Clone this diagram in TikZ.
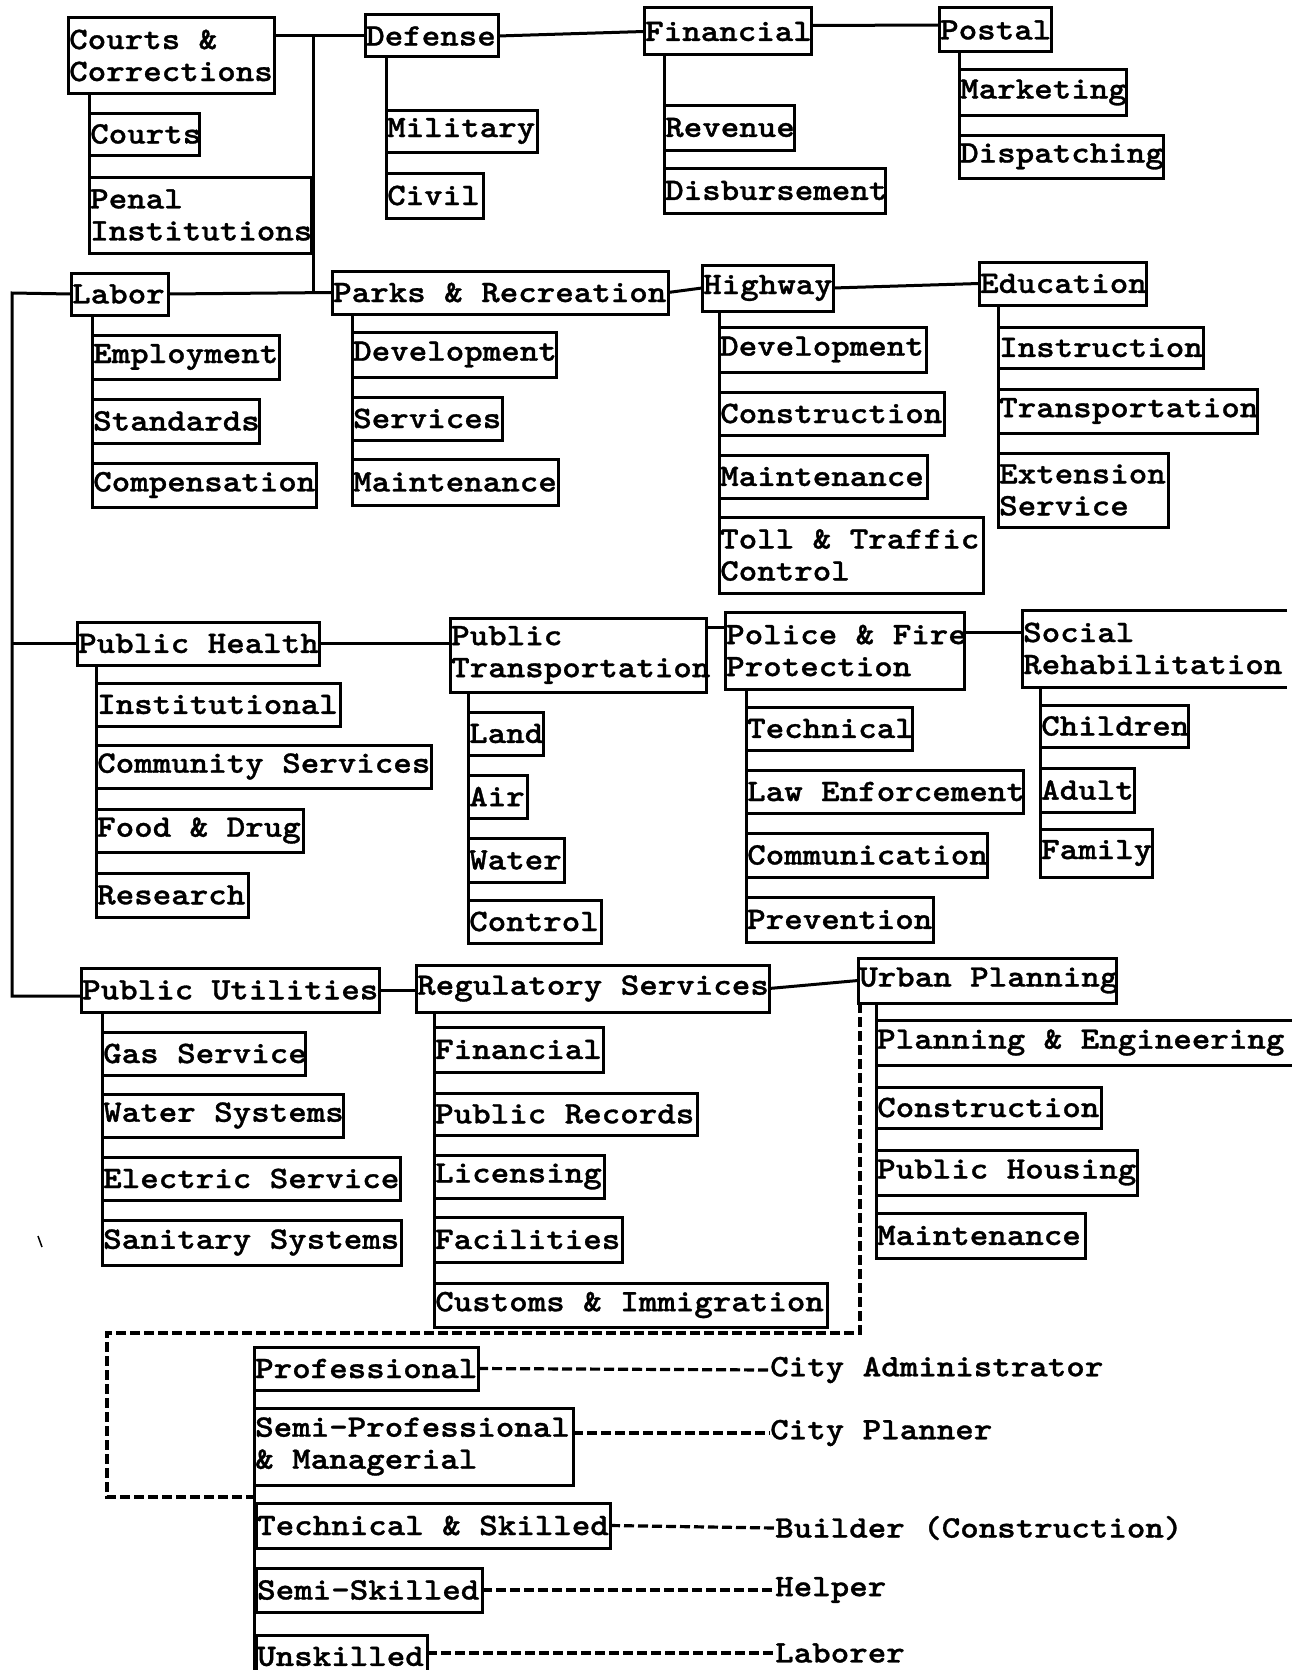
\documentclass[tikz,border=0pt]{standalone}
\usepackage{fontspec}
\newfontfamily\twfont{lmmonolt10-bold.otf}[FakeStretch=1.13, FakeBold=1]
\tikzset{
  boxframe/.style={draw, line width=3pt, inner sep=0pt, outer sep=0pt, rectangle},
  boxtext/.style={font=\twfont\fontsize{31.2}{32}\selectfont, inner xsep=1pt, inner ysep=0pt, align=left},
  link/.style={line width=3pt},
  dlink/.style={line width=3.2pt, dash pattern=on 10pt off 4pt},
  labeltext/.style={font=\twfont\fontsize{31.2}{32}\selectfont, inner sep=0pt, anchor=west}
}
% \unitbox{name}{x1}{y1}{x2}{y2}{text}: framed box with text set flush left
\newcommand\unitbox[6]{%
  \node[boxframe, minimum width={#4-#2}, minimum height={#5-#3}, anchor=north west] (#1) at (#2,#3) {};
  \node[boxtext, anchor=west] (#1-t) at (#1.west) {#6};
}
% \openbox: same, but the frame has no right side
\newcommand\openbox[6]{%
  \node[boxframe, draw=none, minimum width={#4-#2}, minimum height={#5-#3}, anchor=north west] (#1) at (#2,#3) {};
  \draw[link] (#1.north east) -- (#1.north west) -- (#1.south west) -- (#1.south east);
  \node[boxtext, anchor=west] (#1-t) at (#1.west) {#6};
}
\begin{document}
\begin{tikzpicture}[x=1pt, y=-1pt]
\fill[white] (0,0) rectangle (1292,1670);
\useasboundingbox (0,0) rectangle (1292,1670);

% ---- first row of departments
\unitbox{cc}{68}{18}{274}{93}{Courts \&\\Corrections}
\unitbox{courts}{89}{113}{199}{155}{Courts}
\unitbox{penal}{89}{177}{311}{253}{Penal\\Institutions}
\unitbox{def}{365}{15}{498}{57}{Defense}
\unitbox{mil}{386}{110}{537}{152}{Military}
\unitbox{civ}{386}{173}{483}{218}{Civil}
\unitbox{fin}{644}{8}{811}{55}{Financial}
\unitbox{rev}{664}{105}{794}{150}{Revenue}
\unitbox{disb}{664}{168}{885}{213}{Disbursement}
\unitbox{post}{939}{8}{1051}{52}{Postal}
\unitbox{mkt}{959}{70}{1126}{115}{Marketing}
\unitbox{disp}{959}{135}{1163}{178}{Dispatching}

% ---- second row
\unitbox{labor}{71}{273}{168}{315}{Labor}
\unitbox{emp}{92}{335}{279}{379}{Employment}
\unitbox{std}{92}{399}{259}{443}{Standards}
\unitbox{comp}{92}{463}{316}{507}{Compensation}
\unitbox{parks}{332}{271}{668}{314}{Parks \& Recreation}
\unitbox{pdev}{352}{332}{556}{377}{Development}
\unitbox{psvc}{352}{397}{502}{440}{Services}
\unitbox{pmnt}{352}{459}{558}{505}{Maintenance}
\unitbox{hwy}{702}{265}{833}{311}{Highway}
\unitbox{hdev}{719}{327}{926}{372}{Development}
\unitbox{hcon}{719}{392}{944}{435}{Construction}
\unitbox{hmnt}{719}{455}{927}{498}{Maintenance}
\unitbox{toll}{719}{517}{983}{593}{Toll \& Traffic\\Control}
\unitbox{edu}{979}{262}{1146}{305}{Education}
\unitbox{ins}{998}{327}{1203}{368}{Instruction}
\unitbox{trn}{998}{389}{1257}{433}{Transportation}
\unitbox{ext}{998}{453}{1168}{527}{Extension\\Service}

% ---- third row
\unitbox{ph}{77}{622}{319}{665}{Public Health}
\unitbox{inst}{96}{683}{340}{726}{Institutional}
\unitbox{comm}{96}{745}{431}{788}{Community Services}
\unitbox{food}{96}{809}{303}{852}{Food \& Drug}
\unitbox{res}{96}{873}{248}{917}{Research}
\unitbox{pt}{450}{618}{706}{692}{Public\\Transportation}
\unitbox{land}{468}{712}{543}{755}{Land}
\unitbox{air}{468}{775}{527}{818}{Air}
\unitbox{water}{468}{838}{564}{882}{Water}
\unitbox{ctrl}{468}{900}{601}{943}{Control}
\unitbox{pol}{725}{612}{964}{689}{Police \& Fire\\Protection}
\unitbox{tech}{746}{707}{912}{750}{Technical}
\unitbox{law}{746}{770}{1023}{813}{Law Enforcement}
\unitbox{comms}{746}{833}{987}{877}{Communication}
\unitbox{prev}{746}{897}{933}{942}{Prevention}
\openbox{soc}{1022}{610}{1287}{687}{Social\\Rehabilitation}
\unitbox{child}{1040}{705}{1188}{747}{Children}
\unitbox{adult}{1040}{768}{1134}{812}{Adult}
\unitbox{fam}{1040}{829}{1152}{877}{Family}

% ---- fourth row
\unitbox{pu}{81}{968}{379}{1012}{Public Utilities}
\unitbox{gas}{102}{1032}{305}{1075}{Gas Service}
\unitbox{wsys}{102}{1094}{343}{1137}{Water Systems}
\unitbox{elec}{102}{1157}{400}{1200}{Electric Service}
\unitbox{san}{102}{1220}{401}{1265}{Sanitary Systems}
\unitbox{reg}{416}{965}{769}{1012}{Regulatory Services}
\unitbox{rfin}{434}{1027}{603}{1072}{Financial}
\unitbox{rec}{434}{1093}{697}{1135}{Public Records}
\unitbox{lic}{434}{1155}{604}{1198}{Licensing}
\unitbox{fac}{434}{1217}{622}{1262}{Facilities}
\unitbox{cust}{434}{1283}{827}{1327}{Customs \& Immigration}
\unitbox{urb}{858}{958}{1116}{1003}{Urban Planning}
\openbox{peng}{876}{1020}{1295}{1065}{Planning \& Engineering}
\unitbox{ucon}{876}{1087}{1101}{1128}{Construction}
\unitbox{uhou}{876}{1150}{1137}{1195}{Public Housing}
\unitbox{umnt}{876}{1213}{1085}{1258}{Maintenance}

% ---- occupational levels
\unitbox{prof}{254}{1347}{478}{1390}{Professional}
\unitbox{semip}{254}{1408}{573}{1485}{Semi-Professional\\\& Managerial}
\unitbox{tsk}{256}{1503}{610}{1548}{Technical \& Skilled}
\unitbox{ssk}{256}{1568}{482}{1612}{Semi-Skilled}
\unitbox{unsk}{256}{1635}{427}{1678}{Unskilled}
\node[labeltext] (admin) at (770,1370) {City Administrator};
\node[labeltext] (planner) at (770,1433) {City Planner};
\node[labeltext] (builder) at (775,1528) {Builder (Construction)};
\node[labeltext] (helper) at (775,1590) {Helper};
\node[labeltext] (laborer) at (775,1653) {Laborer};

% ---- junction points
\coordinate (hub) at (313,36);
\coordinate (rail) at (12,293);
\coordinate (dtop) at (107,1333);
\coordinate (dlow) at (107,1497);

% ---- links between departments
\draw[link] (cc.east |- def.west) -- (def.west);
\draw[link] (hub) -- (hub |- parks.west);
\draw[link] (labor.east) -- (parks.west);
\draw[link] (def.east) -- (fin.west);
\draw[link] ([yshift=6pt]fin.east) -- ([yshift=5pt]post.west);
\draw[link] (parks.east) -- (hwy.west);
\draw[link] (hwy.east) -- (edu.west);
\draw[link] (labor.west) -- (rail) -- ([yshift=-6pt]pu.west -| rail) -- ([yshift=-6pt]pu.west);
\draw[link] (ph.west -| rail) -- (ph.west);
\draw[link] (ph.east) -- (ph.east -| pt.west);
\draw[link] ([yshift=-15pt]pol.north west -| pt.east) -- ([yshift=-15pt]pol.north west);
\draw[link] ([yshift=-20pt]pol.north east) -- ([yshift=-20pt]pol.north east -| soc.west);
\draw[link] (pu.east) -- (pu.east -| reg.west);
\draw[link] (reg.east) -- (urb.west);

% ---- lines down to the divisions
\draw[link] (penal.south west) -- (penal.south west |- cc.south);
\draw[link] (civ.south west) -- (civ.south west |- def.south);
\draw[link] (disb.south west) -- (disb.south west |- fin.south);
\draw[link] (disp.south west) -- (disp.south west |- post.south);
\draw[link] (comp.south west) -- (comp.south west |- labor.south);
\draw[link] (pmnt.south west) -- (pmnt.south west |- parks.south);
\draw[link] (toll.south west) -- (toll.south west |- hwy.south);
\draw[link] (ext.south west) -- (ext.south west |- edu.south);
\draw[link] (res.south west) -- (res.south west |- ph.south);
\draw[link] (ctrl.south west) -- (ctrl.south west |- pt.south);
\draw[link] (prev.south west) -- (prev.south west |- pol.south);
\draw[link] (fam.south west) -- (fam.south west |- soc.south);
\draw[link] (san.south west) -- (san.south west |- pu.south);
\draw[link] (cust.south west) -- (cust.south west |- reg.south);
\draw[link] (umnt.south west) -- (umnt.south west |- urb.south);
\draw[link] (prof.south west) -- (prof.south west |- unsk.south);

% ---- dashed tie from urban planning to the occupational levels
\draw[dlink] ([xshift=2pt]urb.south west) -- ([xshift=2pt]urb.south west |- dtop) -- (dtop) -- (dlow) -- (dlow -| prof.west);

% ---- dashed lines to job titles
\draw[dlink] (prof.east) -- (admin.west);
\draw[dlink] ([yshift=-25pt]semip.north east) -- (planner.west);
\draw[dlink] (tsk.east) -- (builder.west);
\draw[dlink] (ssk.east) -- (helper.west);
\draw[dlink] (unsk.east |- laborer.west) -- (laborer.west);

% small stray stroke at the left margin
\draw[line width=1.5pt] (38,1236) -- (42,1247);
\end{tikzpicture}
\end{document}
